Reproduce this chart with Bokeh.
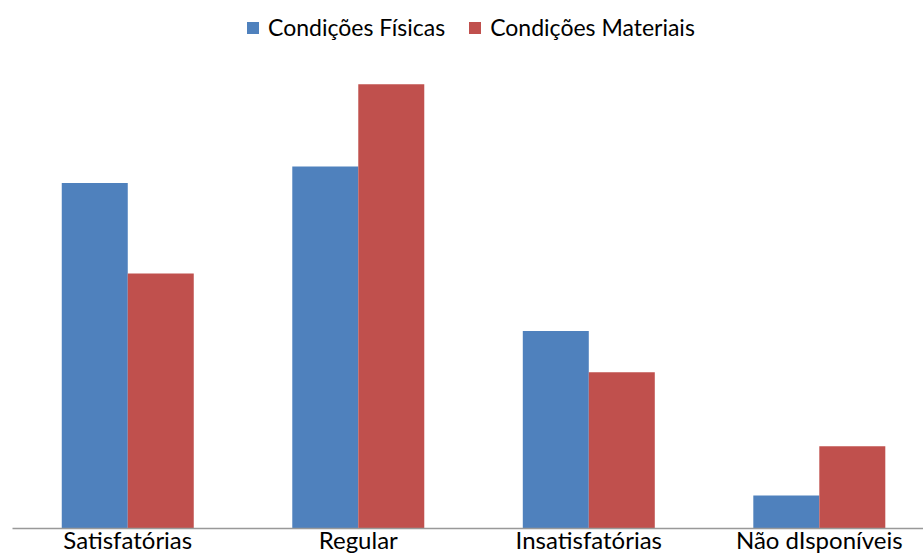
import numpy as np
from bokeh.plotting import figure
from bokeh.models import ColumnDataSource, Range1d, FixedTicker, Legend, LegendItem
from bokeh.embed import file_html
from bokeh.resources import INLINE

categories = ["Satisfatórias", "Regular", "Insatisfatórias", "Não dIsponíveis"]
fisicas = [42, 44, 24, 4]
materiais = [31, 54, 19, 10]
series_names = ["Condições Físicas", "Condições Materiais"]

x = np.arange(len(categories)) + 0.5
bw = 0.2863
src = ColumnDataSource(data=dict(x_f=x - bw / 2, x_m=x + bw / 2, f=fisicas, m=materiais))

p = figure(width=923, height=556, output_backend="svg", toolbar_location=None,
           x_range=Range1d(0, 3.952), y_range=Range1d(0, 64.17),
           y_axis_location=None, min_border_left=12, min_border_right=0,
           min_border_top=0, min_border_bottom=0)
p.outline_line_color = None
p.grid.visible = False
p.background_fill_color = "white"

r1 = p.vbar(x="x_f", top="f", width=bw, bottom=0, source=src, fill_color="#4F81BD", line_color=None)
r2 = p.vbar(x="x_m", top="m", width=bw, bottom=0, source=src, fill_color="#C0504D", line_color=None)

ax = p.xaxis[0]
ax.ticker = FixedTicker(ticks=list(x))
ax.major_label_overrides = {float(v): c for v, c in zip(x, categories)}
ax.major_tick_line_color = None
ax.minor_tick_line_color = None
ax.major_tick_out = 0
ax.major_tick_in = 0
ax.axis_line_color = "#999999"
ax.axis_line_width = 1.5
ax.major_label_standoff = -4
ax.major_label_text_font = "Lato"
ax.major_label_text_font_size = "24px"
ax.major_label_text_color = "black"

legend = Legend(items=[LegendItem(label=series_names[0], renderers=[r1]),
                       LegendItem(label=series_names[1], renderers=[r2])],
                orientation="horizontal", location=(233, 487))
legend.glyph_width = 15
legend.glyph_height = 15
legend.label_standoff = 8
legend.spacing = 22
legend.padding = 0
legend.margin = 0
legend.border_line_color = None
legend.background_fill_alpha = 0
legend.label_text_font = "Lato"
legend.label_text_font_size = "23px"
legend.label_text_color = "black"
p.add_layout(legend)

open("out.html", "w").write(file_html(p, INLINE))
